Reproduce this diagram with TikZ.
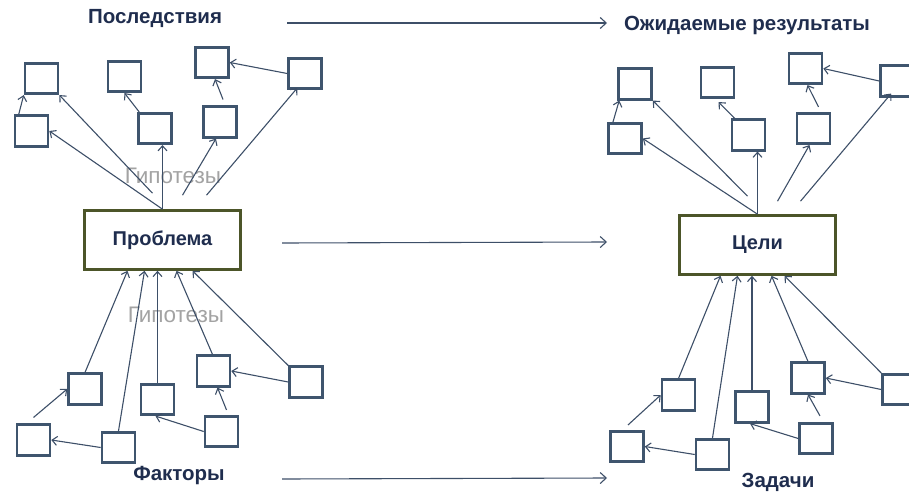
\documentclass[tikz,border=0pt]{standalone}
\usepackage{fontspec}
\setmainfont{Liberation Sans}
\usetikzlibrary{arrows.meta,calc}
\definecolor{boxc}{HTML}{3F556E}
\definecolor{arrc}{HTML}{3D4F68}
\definecolor{olive}{HTML}{4C5529}
\definecolor{navy}{HTML}{1F2D4E}
\definecolor{hyp}{HTML}{A3A3A3}
\tikzset{
  sq/.style={draw=boxc, line width=2.6pt, minimum width=33pt, minimum height=30.5pt, inner sep=0pt, fill=white},
  main/.style={draw=olive, line width=2.6pt, minimum width=156pt, minimum height=59pt, inner sep=0pt, font=\bfseries\fontsize{20}{22}\selectfont, text=navy},
  lbl/.style={font=\bfseries\fontsize{20.5}{22}\selectfont, text=navy, inner sep=0pt},
  hypo/.style={font=\fontsize{22.5}{24}\selectfont, text=hyp, inner sep=0pt},
  arr/.style={draw=arrc, line width=1.1pt, -{Straight Barb[length=5pt,width=9pt,line width=1.1pt]}},
  harr/.style={draw=arrc, line width=1.1pt, -{Straight Barb[length=6pt,width=11pt,line width=1.1pt]}}
}
\begin{document}
\begin{tikzpicture}[x=1pt,y=-1pt]
\useasboundingbox (0,0) rectangle (909,492);
% labels
\node[lbl] (L1) at (155,18) {Последствия};
\node[lbl] (L2) at (747,25) {Ожидаемые результаты};
\node[lbl] (L5) at (179,476) {Факторы};
\node[lbl] (L6) at (778,482) {Задачи};
\node[hypo] (H1) at (173,176) {Гипотезы};
\node[hypo] (H2) at (176,315) {Гипотезы};
% main boxes
\node[main] (P) at (162.5,240) {Проблема};
\node[main] (G) at (757.5,245) {Цели};
% top-left boxes
\node[sq] (A1) at (41.5,78.5) {};
\node[sq] (A2) at (31.5,131) {};
\node[sq] (A3) at (124.5,76.5) {};
\node[sq] (A4) at (155,128.5) {};
\node[sq] (A5) at (212,62.5) {};
\node[sq] (A6) at (220,122) {};
\node[sq] (A7) at (305,73.5) {};
% bottom-left boxes
\node[sq] (B1) at (85,389) {};
\node[sq] (B2) at (33.5,440) {};
\node[sq] (B3) at (118.5,447.5) {};
\node[sq] (B4) at (157.5,399.5) {};
\node[sq] (B5) at (213.5,371) {};
\node[sq] (B6) at (221.5,431.5) {};
\node[sq] (B7) at (306,382) {};
% top-right boxes
\node[sq] (C1) at (635,84) {};
\node[sq] (C2) at (625,138.5) {};
\node[sq] (C3) at (717.5,82.5) {};
\node[sq] (C4) at (748.5,135) {};
\node[sq] (C5) at (805.5,68.5) {};
\node[sq] (C6) at (813.5,128.5) {};
\node[sq] (C7) at (897,81) {};
% bottom-right boxes
\node[sq] (D1) at (678.5,395) {};
\node[sq] (D2) at (627,446.5) {};
\node[sq] (D3) at (712.5,454.5) {};
\node[sq] (D4) at (752,407) {};
\node[sq] (D5) at (808,378) {};
\node[sq] (D6) at (816,438.5) {};
\node[sq] (D7) at (899,389.5) {};
% horizontal arrows (free ends as named coordinates)
\coordinate (h1a) at (287,23);  \coordinate (h1b) at (607,23);
\coordinate (h2a) at (282,243); \coordinate (h2b) at (607,242);
\coordinate (h3a) at (282,479); \coordinate (h3b) at (607,478);
\draw[harr] (h1a) -- (h1b);
\draw[harr] (h2a) -- (h2b);
\draw[harr] (h3a) -- (h3b);
% top-left connectors
\draw[arr] ($(A2.north west)+(5,0)$) -- (A1.south west);
\draw[arr] (P.north) -- (A2.east);
\draw[arr] ($(P.north)+(-10,-16)$) -- (A1.south east);
\draw[arr] (P.north) -- (P.north |- A4.south);
\draw[arr] ($(P.north)+(20,-14)$) -- ($(A6.south)+(-4,0)$);
\draw[arr] ($(P.north)+(44,-14)$) -- ($(A7.south west)+(10,-2)$);
\draw[arr] ($(A4.north west)+(2,0)$) -- (A3.south);
\draw[arr] ($(A6.north)+(3,-6)$) -- ($(A5.south)+(3,0)$);
\draw[arr] (A7.west) -- (A5.east);
% bottom-left connectors
\draw[arr] (B1.north) -- ($(P.south)+(-35,0)$);
\draw[arr] (B3.north) -- ($(P.south)+(-18,0)$);
\draw[arr] (B4.north) -- (B4.north |- P.south);
\draw[arr] ($(B5.north)+(-1,0)$) -- ($(P.south)+(14,0)$);
\draw[arr] (B7.north west) -- ($(P.south)+(30,0)$);
\draw[arr] ($(B2.north)+(0,-6)$) -- (B1.west);
\draw[arr] (B3.west) -- (B2.east);
\draw[arr] (B6.west) -- ($(B4.south)+(-2,0)$);
\draw[arr] ($(B6.north)+(5,-5)$) -- ($(B5.south)+(4,0)$);
\draw[arr] (B7.west) -- (B5.east);
% top-right connectors
\draw[arr] ($(C2.north)+(-12,0)$) -- ($(C1.south west)+(2,0)$);
\draw[arr] (G.north) -- (C2.east);
\draw[arr] ($(G.north)+(-10,-18)$) -- (C1.south east);
\draw[arr] (G.north) -- (G.north |- C4.south);
\draw[arr] ($(G.north)+(20,-13)$) -- ($(C6.south)+(-4,0)$);
\draw[arr] ($(G.north)+(43,-13)$) -- ($(C7.south west)+(12,-4)$);
\draw[arr] ($(C4.north west)+(4,0)$) -- ($(C3.south)+(1,3)$);
\draw[arr] ($(C6.north)+(5,-5)$) -- ($(C5.south)+(2,0)$);
\draw[arr] (C7.west) -- (C5.east);
% bottom-right connectors
\draw[arr] (D1.north) -- ($(G.south)+(-37,0)$);
\draw[arr] (D3.north) -- ($(G.south)+(-20,0)$);
\draw[arr] (D4.north) -- (D4.north |- G.south);
\draw[arr] (D5.north) -- ($(G.south)+(14,0)$);
\draw[arr] (D7.north west) -- ($(G.south)+(27,0)$);
\draw[arr] ($(D2.north)+(1,-5)$) -- (D1.west);
\draw[arr] (D3.west) -- (D2.east);
\draw[arr] (D6.west) -- ($(D4.south)+(-2,0)$);
\draw[arr] ($(D6.north)+(4,-6)$) -- (D5.south);
\draw[arr] (D7.west) -- (D5.east);
\end{tikzpicture}
\end{document}
